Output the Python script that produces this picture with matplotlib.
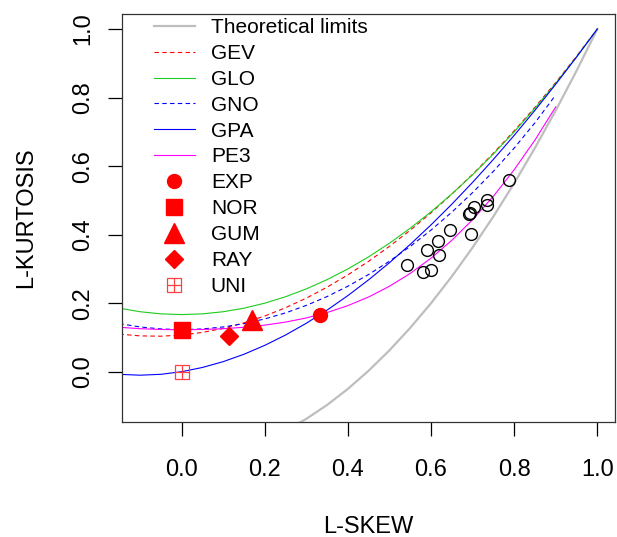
import numpy as np
import matplotlib
matplotlib.use("Agg")
import matplotlib.pyplot as plt
from matplotlib.legend_handler import HandlerTuple

plt.rcParams['font.family'] = ['Liberation Sans', 'DejaVu Sans']

# %%
# L-moment ratio diagram: theoretical curves read at tau3 steps of 0.05
t3 = [-0.15, -0.10, -0.05, 0.00, 0.05, 0.10, 0.15, 0.20, 0.25, 0.30, 0.35, 0.40,
      0.45, 0.50, 0.55, 0.60, 0.65, 0.70, 0.75, 0.80, 0.85, 0.90, 0.95, 1.00]

gev = [0.1097, 0.1045, 0.1036, 0.1070, 0.1147, 0.1265, 0.1425, 0.1626, 0.1867, 0.2148,
       0.2468, 0.2827, 0.3224, 0.3659, 0.4130, 0.4638, 0.5182, 0.5762, 0.6378, 0.7030,
       0.7718, 0.8443, 0.9206, 1.0000]
glo = [0.1854, 0.1750, 0.1688, 0.1667, 0.1688, 0.1750, 0.1854, 0.2000, 0.2188, 0.2417,
       0.2688, 0.3000, 0.3354, 0.3750, 0.4188, 0.4667, 0.5188, 0.5750, 0.6354, 0.7000,
       0.7688, 0.8417, 0.9188, 1.0000]
gpa = [-0.0077, -0.0102, -0.0076, 0.0000, 0.0124, 0.0294, 0.0510, 0.0769, 0.1071, 0.1415,
       0.1799, 0.2222, 0.2684, 0.3182, 0.3716, 0.4286, 0.4889, 0.5526, 0.6196, 0.6897,
       0.7628, 0.8390, 0.9181, 1.0000]

# GNO and PE3 only drawn up to tau3 = 0.9
t3_b = t3[:22]
gno = [0.1403, 0.1306, 0.1248, 0.1228, 0.1248, 0.1306, 0.1403, 0.1540, 0.1717, 0.1935,
       0.2194, 0.2495, 0.2839, 0.3226, 0.3657, 0.4134, 0.4656, 0.5227, 0.5848, 0.6526,
       0.7265, 0.8077]
pe3 = [0.1297, 0.1255, 0.1232, 0.1224, 0.1232, 0.1255, 0.1297, 0.1359, 0.1448, 0.1569,
       0.1727, 0.1929, 0.2182, 0.2494, 0.2869, 0.3314, 0.3835, 0.4436, 0.5120, 0.5894,
       0.6761, 0.7729]

# lower theoretical limit
t3_lim = [0.25, 0.30, 0.35, 0.40, 0.45, 0.50, 0.55, 0.60, 0.65, 0.70, 0.75, 0.80,
          0.85, 0.90, 0.95, 1.00]
lim = [-0.1719, -0.1375, -0.0969, -0.0500, 0.0031, 0.0625, 0.1281, 0.2000, 0.2781,
       0.3625, 0.4531, 0.5500, 0.6531, 0.7625, 0.8781, 1.0000]

# two-parameter distributions
pt_names = ["EXP", "NOR", "GUM", "RAY", "UNI"]
pt_t3 = [0.3333, 0.0, 0.1699, 0.1140, 0.0]
pt_t4 = [0.1667, 0.1226, 0.1504, 0.1054, 0.0]

# sample L-moment ratios
obs_t3 = [0.788, 0.735, 0.735, 0.704, 0.693, 0.691, 0.646, 0.697, 0.617, 0.591,
          0.619, 0.543, 0.581, 0.601]
obs_t4 = [0.559, 0.501, 0.486, 0.481, 0.464, 0.459, 0.414, 0.401, 0.382, 0.356,
          0.341, 0.312, 0.292, 0.298]

# %%
fig = plt.figure(figsize=(6.17, 5.37), dpi=100)
ax = fig.add_axes([0.1977, 0.2142, 0.7991, 0.7597])

l_lim, = ax.plot(t3_lim, lim, color="#bebebe", lw=1.6)
l_gev, = ax.plot(t3, gev, color="red", lw=0.8, ls=(0, (4, 3)))
l_glo, = ax.plot(t3, glo, color="#1fcc1f", lw=0.8)
l_gno, = ax.plot(t3_b, gno, color="blue", lw=0.8, ls=(0, (4, 3)))
l_gpa, = ax.plot(t3, gpa, color="blue", lw=0.8)
l_pe3, = ax.plot(t3_b, pe3, color="magenta", lw=0.8)

m_exp, = ax.plot(pt_t3[0], pt_t4[0], "o", color="red", ms=10, ls="none")
m_nor, = ax.plot(pt_t3[1], pt_t4[1], "s", color="red", ms=12, ls="none")
m_gum, = ax.plot(pt_t3[2], pt_t4[2], "^", color="red", ms=14, ls="none")
m_ray, = ax.plot(pt_t3[3], pt_t4[3], "D", color="red", ms=9, ls="none")
m_uni1, = ax.plot(pt_t3[4], pt_t4[4], "s", mfc="none", mec="#ff4040", ms=10, mew=0.9, ls="none")
m_uni2, = ax.plot(pt_t3[4], pt_t4[4], "+", color="#ff4040", ms=10, mew=0.9, ls="none")

ax.plot(obs_t3, obs_t4, "o", mfc="none", mec="black", ms=8.5, mew=1.0, ls="none")

ax.set_xlim(-0.1436, 1.0426)
ax.set_ylim(-0.1467, 1.0438)
ax.set_xticks([0.0, 0.2, 0.4, 0.6, 0.8, 1.0])
ax.set_yticks([0.0, 0.2, 0.4, 0.6, 0.8, 1.0])
ax.tick_params(axis="both", direction="out", length=10, width=0.9, labelsize=17)
ax.tick_params(axis="x", pad=17)
ax.tick_params(axis="y", pad=10)
for lab in ax.get_yticklabels():
    lab.set_rotation(90)
    lab.set_va("center")
for sp in ax.spines.values():
    sp.set_linewidth(0.9)
    sp.set_color("#333333")

ax.set_xlabel("L-SKEW", fontsize=17)
ax.set_ylabel("L-KURTOSIS", fontsize=17)
ax.xaxis.set_label_coords(0.5, -0.23)
ax.yaxis.set_label_coords(-0.172, 0.5)

handles = [l_lim, l_gev, l_glo, l_gno, l_gpa, l_pe3, m_exp, m_nor, m_gum, m_ray, (m_uni1, m_uni2)]
labels = ["Theoretical limits", "GEV", "GLO", "GNO", "GPA", "PE3"] + pt_names
ax.legend(handles, labels, loc="upper left", bbox_to_anchor=(0.026, 1.036), frameon=False,
          fontsize=15, handlelength=2.0, handletextpad=0.75, labelspacing=0.33,
          handler_map={tuple: HandlerTuple(ndivide=1)})

plt.savefig("out.png", dpi=100)
